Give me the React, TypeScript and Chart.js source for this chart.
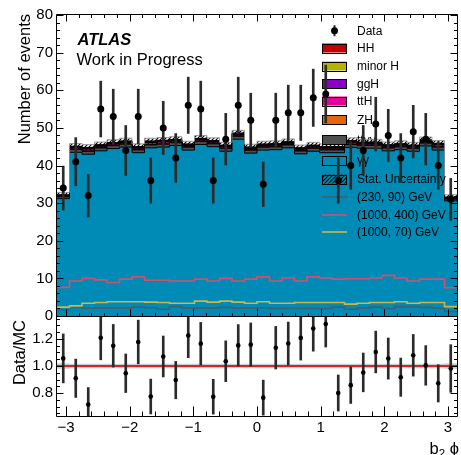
import React, { useEffect, useRef } from 'react';
import { Chart, registerables } from 'chart.js';

Chart.register(...registerables);

const PHI_MIN = -Math.PI;
const PHI_MAX = Math.PI;
const N_BINS = 32;

// Observed events per b2 phi bin
const dataCounts = [34, 41, 32, 55, 53, 44, 53, 36, 50, 42, 56, 55, 36, 47, 56, 52, 35, 52, 54, 54, 58, 59, 36, 40, 44, 51, 48, 42, 49, 47, 40, 31];

// Background / Higgs stack components (bottom to top)
const yyEvents = [31.2, 43.5, 43.0, 43.9, 44.5, 44.9, 43.4, 44.7, 44.9, 45.3, 44.1, 45.6, 45.0, 43.8, 47.0, 43.3, 44.1, 44.2, 44.7, 43.1, 43.8, 43.4, 43.4, 44.8, 44.6, 44.6, 43.9, 44.2, 43.8, 45.2, 44.1, 30.6];
const ttyyEvents = [0.5, 0.75, 0.75, 0.75, 0.75, 0.75, 0.75, 0.75, 0.75, 0.75, 0.75, 0.75, 0.75, 0.75, 0.75, 0.75, 0.75, 0.75, 0.75, 0.75, 0.75, 0.75, 0.75, 0.75, 0.75, 0.75, 0.75, 0.75, 0.75, 0.75, 0.75, 0.5];
const zhEvents = [0.1, 0.15, 0.15, 0.15, 0.15, 0.15, 0.15, 0.15, 0.15, 0.15, 0.15, 0.15, 0.15, 0.15, 0.15, 0.15, 0.15, 0.15, 0.15, 0.15, 0.15, 0.15, 0.15, 0.15, 0.15, 0.15, 0.15, 0.15, 0.15, 0.15, 0.15, 0.1];
const tthEvents = [0.15, 0.3, 0.5, 0.3, 0.3, 0.3, 0.3, 0.5, 0.5, 0.3, 0.3, 0.3, 0.3, 0.3, 0.3, 0.3, 0.3, 0.3, 0.3, 0.3, 0.3, 0.3, 0.3, 0.5, 0.3, 0.3, 0.3, 0.3, 0.3, 0.3, 0.5, 0.15];
const gghEvents = [0.12, 0.2, 0.2, 0.2, 0.2, 0.2, 0.2, 0.2, 0.2, 0.2, 0.2, 0.2, 0.2, 0.2, 0.2, 0.2, 0.2, 0.2, 0.2, 0.2, 0.2, 0.2, 0.2, 0.2, 0.2, 0.2, 0.2, 0.2, 0.2, 0.2, 0.2, 0.12];
const minorHEvents = [0.08, 0.15, 0.15, 0.15, 0.15, 0.15, 0.15, 0.15, 0.15, 0.15, 0.15, 0.15, 0.15, 0.15, 0.15, 0.15, 0.15, 0.15, 0.15, 0.15, 0.15, 0.15, 0.15, 0.15, 0.15, 0.15, 0.15, 0.15, 0.15, 0.15, 0.15, 0.08];
const hhEvents = [0.04, 0.05, 0.05, 0.05, 0.05, 0.05, 0.05, 0.05, 0.05, 0.05, 0.05, 0.05, 0.05, 0.05, 0.05, 0.05, 0.05, 0.05, 0.05, 0.05, 0.05, 0.05, 0.05, 0.05, 0.05, 0.05, 0.05, 0.05, 0.05, 0.05, 0.05, 0.04];

// Statistical uncertainty on the total prediction
const statUnc = [0.65, 0.75, 0.75, 0.75, 0.75, 0.75, 0.75, 0.75, 0.75, 0.75, 0.75, 0.75, 0.75, 0.75, 0.75, 0.75, 0.75, 0.75, 0.75, 0.75, 0.75, 0.75, 0.75, 0.75, 0.75, 0.75, 0.75, 0.75, 0.75, 0.75, 0.75, 0.65];

// Signal hypotheses (mX, mS)
const sig230x90 = [1.65, 2.5, 2.1, 2.1, 2.1, 2.1, 2.35, 2.2, 1.8, 2.5, 2.1, 2.1, 2.1, 2.3, 2.1, 2.1, 2.2, 2.0, 2.0, 2.0, 2.0, 2.0, 2.35, 1.8, 2.1, 2.35, 2.0, 2.5, 2.5, 2.3, 2.1, 1.2];
const sig1000x400 = [7.6, 9.3, 10.0, 9.6, 8.9, 9.8, 10.4, 9.5, 9.5, 9.3, 9.3, 9.8, 9.3, 10.0, 9.3, 9.8, 10.4, 9.3, 10.1, 9.3, 10.4, 10.1, 9.8, 9.9, 9.9, 10.1, 10.8, 10.1, 9.3, 9.8, 9.8, 7.5];
const sig1000x70 = [2.35, 2.7, 3.4, 3.6, 3.8, 3.8, 3.8, 3.7, 3.6, 3.4, 3.4, 3.95, 3.7, 3.95, 3.7, 3.4, 3.8, 3.4, 3.4, 3.6, 3.6, 3.6, 3.6, 3.15, 3.4, 3.6, 3.6, 3.8, 3.4, 3.6, 3.6, 2.5];

const yTicksMain = [0, 10, 20, 30, 40, 50, 60, 70, 80];
const xTicks = [-3, -2, -1, 0, 1, 2, 3];
const ratioTicks = [0.8, 1.0, 1.2];
const ratioReference = 1.0;

const FONT = '"Liberation Sans", Arial, Helvetica, sans-serif';

const COLORS = {
  yy: '#008ab6',
  ttyy: '#4f4f4f',
  ZH: '#e5650a',
  ttH: '#e8009b',
  ggH: '#8a00c9',
  minorH: '#b5b200',
  HH: '#c20000',
  sig230: '#3f5f73',
  sig400: '#d2506f',
  sig70: '#c9b845',
  errBar: '#2b2b2b',
};

const binEdges: number[] = [];
for (let i = 0; i <= N_BINS; i++) binEdges.push(PHI_MIN + ((PHI_MAX - PHI_MIN) * i) / N_BINS);
const binCenters = dataCounts.map((_, i) => (binEdges[i] + binEdges[i + 1]) / 2);

function histPoints(values: number[]) {
  const pts = values.map((v, i) => ({ x: binEdges[i], y: v }));
  pts.push({ x: binEdges[N_BINS], y: values[N_BINS - 1] });
  return pts;
}

const stackLayers = [
  { label: 'γγ', values: yyEvents, color: COLORS.yy },
  { label: 'ttγγ', values: ttyyEvents, color: COLORS.ttyy },
  { label: 'ZH', values: zhEvents, color: COLORS.ZH },
  { label: 'ttH', values: tthEvents, color: COLORS.ttH },
  { label: 'ggH', values: gghEvents, color: COLORS.ggH },
  { label: 'minor H', values: minorHEvents, color: COLORS.minorH },
  { label: 'HH', values: hhEvents, color: COLORS.HH },
];

const cumulativeStack: number[][] = [];
{
  let run = new Array(N_BINS).fill(0);
  for (const layer of stackLayers) {
    run = run.map((v: number, i: number) => v + layer.values[i]);
    cumulativeStack.push(run);
  }
}
const totalPrediction = cumulativeStack[cumulativeStack.length - 1];

function range(from: number, to: number, step: number, skip: number[] = []) {
  const out: number[] = [];
  const n = Math.round((to - from) / step);
  for (let i = 0; i <= n; i++) {
    const v = Math.round((from + i * step) * 1000) / 1000;
    if (!skip.some((s) => Math.abs(s - v) < 1e-6)) out.push(v);
  }
  return out;
}

function makeHatch(): CanvasPattern | string {
  const c = document.createElement('canvas');
  c.width = 4;
  c.height = 4;
  const g = c.getContext('2d');
  if (!g) return 'rgba(0,0,0,0.3)';
  g.strokeStyle = '#000';
  g.lineWidth = 1.1;
  g.beginPath();
  g.moveTo(0, 4);
  g.lineTo(4, 0);
  g.moveTo(-1, 1);
  g.lineTo(1, -1);
  g.moveTo(3, 5);
  g.lineTo(5, 3);
  g.stroke();
  return g.createPattern(c, 'repeat') || 'rgba(0,0,0,0.3)';
}

type FrameSpec = {
  frameTop: number;
  xMajor: number[];
  xMinor: number[];
  yMajor: number[];
  yMinor: number[];
  xMajLen: number;
  xMinLen: number;
  yMajLen: number;
  yMinLen: number;
  mirrorX: boolean;
};

function drawFrame(chart: any, spec: FrameSpec) {
  const { ctx, chartArea: a } = chart;
  const xs = chart.scales.x;
  const ys = chart.scales.y;
  const L = a.left - 0.5;
  const R = a.right + 0.5;
  const T = spec.frameTop;
  const B = a.bottom + 0.5;
  ctx.save();
  ctx.strokeStyle = '#000';
  ctx.lineWidth = 1;
  ctx.beginPath();
  ctx.rect(L, T, R - L, B - T);
  const xt = (v: number, len: number) => {
    const p = Math.round(xs.getPixelForValue(v)) + 0.5;
    ctx.moveTo(p, B);
    ctx.lineTo(p, B - len);
    if (spec.mirrorX) {
      ctx.moveTo(p, T);
      ctx.lineTo(p, T + len);
    }
  };
  const yt = (v: number, len: number) => {
    const p = Math.round(ys.getPixelForValue(v)) + 0.5;
    ctx.moveTo(L, p);
    ctx.lineTo(L + len, p);
    ctx.moveTo(R, p);
    ctx.lineTo(R - len, p);
  };
  spec.xMajor.forEach((v) => xt(v, spec.xMajLen));
  spec.xMinor.forEach((v) => xt(v, spec.xMinLen));
  spec.yMajor.forEach((v) => yt(v, spec.yMajLen));
  spec.yMinor.forEach((v) => yt(v, spec.yMinLen));
  ctx.stroke();
  ctx.restore();
}

const xMinorTicks = range(-3.2, 3.2, 0.2, xTicks).filter((v) => v > PHI_MIN && v < PHI_MAX);

const legendRows = [
  { label: 'Data', kind: 'data', y: 30.7 },
  { label: 'HH', kind: 'box', color: COLORS.HH, y: 48 },
  { label: 'minor H', kind: 'box', color: COLORS.minorH, y: 66 },
  { label: 'ggH', kind: 'box', color: COLORS.ggH, y: 83.5 },
  { label: 'ttH', kind: 'box', color: COLORS.ttH, y: 101 },
  { label: 'ZH', kind: 'box', color: COLORS.ZH, y: 119.5 },
  { label: 'ttγγ', kind: 'box', color: COLORS.ttyy, y: 139.5, under: true },
  { label: 'γγ', kind: 'box', color: COLORS.yy, y: 160 },
  { label: 'Stat. Uncertainty', kind: 'hatch', y: 179 },
  { label: '(230, 90) GeV', kind: 'line', color: COLORS.sig230, y: 197 },
  { label: '(1000, 400) GeV', kind: 'line', color: COLORS.sig400, y: 215 },
  { label: '(1000, 70) GeV', kind: 'line', color: COLORS.sig70, y: 232 },
];

function drawLegendText(ctx: CanvasRenderingContext2D, row: any) {
  ctx.fillStyle = '#000';
  ctx.font = `12px ${FONT}`;
  ctx.textAlign = 'left';
  ctx.textBaseline = 'alphabetic';
  ctx.fillText(row.label, 357, row.y + 4.3);
}

function drawLegend(ctx: CanvasRenderingContext2D, hatch: CanvasPattern | string) {
  const bx = 322;
  const bw = 25;
  const bh = 9;
  ctx.save();
  for (const row of legendRows) {
    if (row.kind === 'data') {
      ctx.fillStyle = COLORS.errBar;
      ctx.fillRect(bx + bw / 2 - 1, row.y - 5.5, 2, 11);
      ctx.fillStyle = '#000';
      ctx.beginPath();
      ctx.arc(bx + bw / 2, row.y, 3.5, 0, Math.PI * 2);
      ctx.fill();
    } else if (row.kind === 'box') {
      ctx.fillStyle = row.color as string;
      ctx.fillRect(bx, row.y - bh / 2, bw, bh);
      ctx.strokeStyle = '#000';
      ctx.lineWidth = 1;
      ctx.strokeRect(bx + 0.5, Math.round(row.y - bh / 2) + 0.5, bw - 1, bh);
    } else if (row.kind === 'hatch') {
      ctx.fillStyle = hatch as any;
      ctx.fillRect(bx, row.y - bh / 2, bw, bh);
      ctx.strokeStyle = '#000';
      ctx.lineWidth = 1;
      ctx.strokeRect(bx + 0.5, Math.round(row.y - bh / 2) + 0.5, bw - 1, bh);
    } else if (row.kind === 'line') {
      ctx.strokeStyle = row.color as string;
      ctx.lineWidth = 1.6;
      ctx.beginPath();
      ctx.moveTo(bx, row.y);
      ctx.lineTo(bx + bw, row.y);
      ctx.stroke();
    }
    if (!row.under) drawLegendText(ctx, row);
  }
  ctx.restore();
}

function buildMainConfig(): any {
  const hatch = makeHatch();
  const stackSets = [];
  for (let k = stackLayers.length - 1; k >= 0; k--) {
    stackSets.push({
      type: 'line',
      label: stackLayers[k].label,
      data: histPoints(cumulativeStack[k]),
      stepped: true,
      fill: 'origin',
      backgroundColor: stackLayers[k].color,
      borderColor: '#000',
      borderWidth: 1,
      pointRadius: 0,
    });
  }
  const hatchLow = {
    type: 'line',
    label: 'stat low',
    data: histPoints(totalPrediction.map((v, i) => v - statUnc[i])),
    stepped: true,
    fill: false,
    borderWidth: 0,
    borderColor: 'rgba(0,0,0,0)',
    pointRadius: 0,
  };
  const hatchHigh = {
    type: 'line',
    label: 'Stat. Uncertainty',
    data: histPoints(totalPrediction.map((v, i) => v + statUnc[i])),
    stepped: true,
    fill: '-1',
    backgroundColor: hatch,
    borderColor: 'rgba(150,150,150,0.9)',
    borderWidth: 1,
    pointRadius: 0,
  };
  const signal = (label: string, values: number[], color: string) => ({
    type: 'line',
    label,
    data: histPoints(values),
    stepped: true,
    fill: false,
    borderColor: color,
    borderWidth: 1.6,
    pointRadius: 0,
  });
  const errBars = {
    type: 'bar',
    label: 'Data errors',
    data: binCenters.map((x, i) => ({
      x,
      y: [dataCounts[i] - Math.sqrt(dataCounts[i]), dataCounts[i] + Math.sqrt(dataCounts[i])],
    })),
    backgroundColor: COLORS.errBar,
    borderWidth: 0,
    barThickness: 2,
    clip: 0,
  };
  const points = {
    type: 'line',
    label: 'Data',
    data: binCenters.map((x, i) => ({ x, y: dataCounts[i] })),
    showLine: false,
    pointRadius: 3.5,
    pointBackgroundColor: '#000',
    pointBorderWidth: 0,
  };
  const datasets: any[] = [
    ...stackSets,
    hatchLow,
    hatchHigh,
    signal('(230, 90) GeV', sig230x90, COLORS.sig230),
    signal('(1000, 400) GeV', sig1000x400, COLORS.sig400),
    signal('(1000, 70) GeV', sig1000x70, COLORS.sig70),
    errBars,
    points,
  ];
  datasets.forEach((d, i) => (d.order = datasets.length - i));
  const errIndex = datasets.indexOf(errBars);

  const decor = {
    id: 'mainDecor',
    beforeDatasetsDraw(chart: any) {
      const row = legendRows.find((r) => r.under);
      if (row) {
        chart.ctx.save();
        drawLegendText(chart.ctx, row);
        chart.ctx.restore();
      }
    },
    beforeDatasetDraw(chart: any, args: any) {
      if (args.index === errIndex) drawLegend(chart.ctx, hatch);
    },
    afterDatasetsDraw(chart: any) {
      drawFrame(chart, {
        frameTop: chart.chartArea.top - 0.5,
        xMajor: xTicks,
        xMinor: xMinorTicks,
        yMajor: yTicksMain,
        yMinor: range(0, 80, 2, yTicksMain),
        xMajLen: 7,
        xMinLen: 3.5,
        yMajLen: 7,
        yMinLen: 3.5,
        mirrorX: true,
      });
    },
    afterDraw(chart: any) {
      const ctx = chart.ctx as CanvasRenderingContext2D;
      ctx.save();
      ctx.fillStyle = '#000';
      ctx.textAlign = 'left';
      ctx.textBaseline = 'alphabetic';
      ctx.font = `italic bold 16.5px ${FONT}`;
      ctx.fillText('ATLAS', 77.5, 44.5);
      ctx.font = `16.5px ${FONT}`;
      ctx.fillText('Work in Progress', 76.5, 65);
      ctx.translate(29.5, 14);
      ctx.rotate(-Math.PI / 2);
      ctx.textAlign = 'right';
      ctx.fillText('Number of events', 0, 0);
      ctx.restore();
    },
  };

  return {
    type: 'line',
    data: { datasets },
    options: {
      responsive: false,
      animation: false,
      events: [],
      layout: { padding: { top: 15, right: 1, bottom: 455 - 316, left: 0 } },
      scales: {
        x: {
          type: 'linear',
          min: PHI_MIN,
          max: PHI_MAX,
          offset: false,
          display: false,
          grid: { display: false, drawTicks: false, offset: false },
        },
        y: {
          type: 'linear',
          min: 0,
          max: 80,
          afterFit: (s: any) => {
            s.width = 57;
          },
          afterBuildTicks: (s: any) => {
            s.ticks = yTicksMain.map((v) => ({ value: v }));
          },
          ticks: { color: '#000', font: { family: FONT, size: 15 }, padding: 4 },
          grid: { display: false, drawTicks: false },
          border: { display: false },
        },
      },
      plugins: { legend: { display: false }, tooltip: { enabled: false } },
    },
    plugins: [decor],
  };
}

function buildRatioConfig(): any {
  const ratio = dataCounts.map((n, i) => n / totalPrediction[i]);
  const ratioErr = dataCounts.map((n, i) => Math.sqrt(n) / totalPrediction[i]);
  const bandLow = {
    type: 'line',
    label: 'band low',
    data: histPoints(totalPrediction.map((v, i) => 1 - statUnc[i] / v)),
    stepped: true,
    fill: false,
    borderWidth: 0,
    borderColor: 'rgba(0,0,0,0)',
    pointRadius: 0,
  };
  const bandHigh = {
    type: 'line',
    label: 'band high',
    data: histPoints(totalPrediction.map((v, i) => 1 + statUnc[i] / v)),
    stepped: true,
    fill: '-1',
    backgroundColor: '#cfcfcf',
    borderWidth: 0,
    borderColor: 'rgba(0,0,0,0)',
    pointRadius: 0,
  };
  const refLine = {
    type: 'line',
    label: 'unity',
    data: [
      { x: PHI_MIN, y: ratioReference },
      { x: PHI_MAX, y: ratioReference },
    ],
    borderColor: '#d42424',
    borderWidth: 2,
    pointRadius: 0,
    fill: false,
  };
  const errBars = {
    type: 'bar',
    label: 'ratio errors',
    data: binCenters.map((x, i) => ({ x, y: [ratio[i] - ratioErr[i], ratio[i] + ratioErr[i]] })),
    backgroundColor: COLORS.errBar,
    borderWidth: 0,
    barThickness: 2,
    clip: 0,
  };
  const points = {
    type: 'line',
    label: 'Data/MC',
    data: binCenters.map((x, i) => ({ x, y: ratio[i] })),
    showLine: false,
    pointRadius: 2.3,
    pointBackgroundColor: '#000',
    pointBorderWidth: 0,
  };
  const datasets: any[] = [bandLow, bandHigh, refLine, errBars, points];
  datasets.forEach((d, i) => (d.order = datasets.length - i));

  const decor = {
    id: 'ratioDecor',
    afterDatasetsDraw(chart: any) {
      drawFrame(chart, {
        frameTop: chart.chartArea.top + 0.5,
        xMajor: xTicks,
        xMinor: xMinorTicks,
        yMajor: ratioTicks,
        yMinor: range(0.65, 1.35, 0.05, ratioTicks),
        xMajLen: 10,
        xMinLen: 5,
        yMajLen: 7,
        yMinLen: 3.5,
        mirrorX: false,
      });
    },
    afterDraw(chart: any) {
      const ctx = chart.ctx as CanvasRenderingContext2D;
      ctx.save();
      ctx.fillStyle = '#000';
      ctx.textBaseline = 'alphabetic';
      // x-axis title: b_2 phi
      const big = `16.5px ${FONT}`;
      const small = `11.5px ${FONT}`;
      ctx.font = big;
      const wb = ctx.measureText('b').width;
      const wsp = ctx.measureText(' ').width;
      const wphi = ctx.measureText('ϕ').width;
      ctx.font = small;
      const w2 = ctx.measureText('2').width;
      const right = 459;
      let x = right - (wb + w2 + wsp + wphi);
      const base = 453.5;
      ctx.font = big;
      ctx.textAlign = 'left';
      ctx.fillText('b', x, base);
      x += wb;
      ctx.font = small;
      ctx.fillText('2', x, base + 3);
      x += w2 + wsp;
      ctx.font = big;
      ctx.fillText('ϕ', x, base);
      // y-axis title
      ctx.translate(25, 320);
      ctx.rotate(-Math.PI / 2);
      ctx.textAlign = 'right';
      ctx.font = big;
      ctx.fillText('Data/MC', 0, 0);
      ctx.restore();
    },
  };

  return {
    type: 'line',
    data: { datasets },
    options: {
      responsive: false,
      animation: false,
      events: [],
      layout: { padding: { top: 316, right: 1, bottom: 0, left: 0 } },
      scales: {
        x: {
          type: 'linear',
          min: PHI_MIN,
          max: PHI_MAX,
          offset: false,
          afterFit: (s: any) => {
            s.height = 39;
          },
          afterBuildTicks: (s: any) => {
            s.ticks = xTicks.map((v) => ({ value: v }));
          },
          ticks: {
            color: '#000',
            font: { family: FONT, size: 15 },
            padding: 3,
            maxRotation: 0,
            autoSkip: false,
            callback: (v: any) => String(v).replace('-', '\u2212'),
          },
          grid: { display: false, drawTicks: false, offset: false },
          border: { display: false },
        },
        y: {
          type: 'linear',
          min: 0.63,
          max: 1.37,
          afterFit: (s: any) => {
            s.width = 57;
          },
          afterBuildTicks: (s: any) => {
            s.ticks = ratioTicks.map((v) => ({ value: v }));
          },
          ticks: {
            color: '#000',
            font: { family: FONT, size: 15 },
            padding: 4,
            callback: (v: any) => Number(v).toFixed(1),
          },
          grid: { display: false, drawTicks: false },
          border: { display: false },
        },
      },
      plugins: { legend: { display: false }, tooltip: { enabled: false } },
    },
    plugins: [decor],
  };
}

export default function App() {
  const mainRef = useRef<HTMLCanvasElement>(null);
  const ratioRef = useRef<HTMLCanvasElement>(null);

  useEffect(() => {
    if (!mainRef.current || !ratioRef.current) return;
    const main = new Chart(mainRef.current, buildMainConfig());
    const ratio = new Chart(ratioRef.current, buildRatioConfig());
    return () => {
      main.destroy();
      ratio.destroy();
    };
  }, []);

  return (
    <div style={{ position: 'fixed', left: 0, top: 0, width: 461, height: 455, background: '#fff' }}>
      <canvas ref={mainRef} width={461} height={455} style={{ position: 'absolute', left: 0, top: 0 }} />
      <canvas ref={ratioRef} width={461} height={455} style={{ position: 'absolute', left: 0, top: 0 }} />
    </div>
  );
}
